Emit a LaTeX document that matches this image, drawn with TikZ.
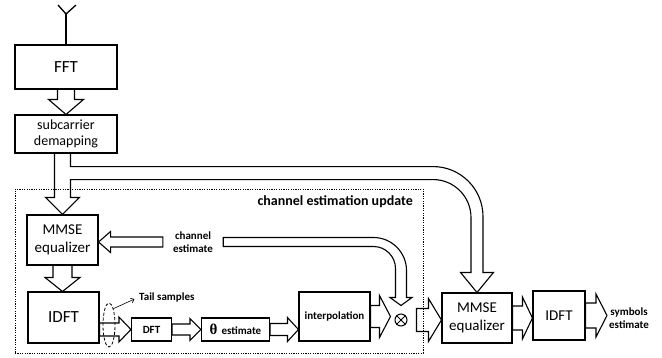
\documentclass[tikz,border=0pt]{standalone}
\usepackage{fontspec}
\setmainfont{Carlito}
\newfontfamily\thetafont{Liberation Serif}
\usetikzlibrary{calc,shapes.geometric,arrows.meta}
\tikzset{
  box/.style={draw, line width=1.1pt, inner sep=0pt, align=center},
  hollow/.style={draw, line width=1.1pt, line join=miter},
  bigtxt/.style={font=\fontsize{17}{20}\selectfont},
  midtxt/.style={font=\fontsize{15}{18.5}\selectfont},
  subtxt/.style={font=\fontsize{14}{16}\selectfont},
  smallbold/.style={font=\fontsize{11}{13.5}\selectfont\bfseries},
  thinarrow/.style={line width=0.6pt, -{Straight Barb[length=3pt,width=5pt]}},
}
% right-pointing hollow arrow: start, tip (x only), shaft half width, head half width, head length
\newcommand\hollowR[5]{\draw[hollow] let \p1=(#1), \p2=(#2) in
  (\x1,\y1+#3pt) -- (\x2-#5pt,\y1+#3pt) -- (\x2-#5pt,\y1+#4pt) -- (\x2,\y1)
  -- (\x2-#5pt,\y1-#4pt) -- (\x2-#5pt,\y1-#3pt) -- (\x1,\y1-#3pt) -- cycle;}
\newcommand\hollowL[5]{\draw[hollow] let \p1=(#1), \p2=(#2) in
  (\x1,\y1+#3pt) -- (\x2+#5pt,\y1+#3pt) -- (\x2+#5pt,\y1+#4pt) -- (\x2,\y1)
  -- (\x2+#5pt,\y1-#4pt) -- (\x2+#5pt,\y1-#3pt) -- (\x1,\y1-#3pt) -- cycle;}
\newcommand\hollowD[5]{\draw[hollow] let \p1=(#1), \p2=(#2) in
  (\x1-#3pt,\y1) -- (\x1-#3pt,\y2+#5pt) -- (\x1-#4pt,\y2+#5pt) -- (\x1,\y2)
  -- (\x1+#4pt,\y2+#5pt) -- (\x1+#3pt,\y2+#5pt) -- (\x1+#3pt,\y1);}
\begin{document}
\begin{tikzpicture}[x=1pt,y=-1pt]
\path[fill=white,use as bounding box] (0,0) rectangle (662,357);

% dotted frame
\node[draw, line width=0.9pt, dash pattern=on 1.2pt off 1.2pt, minimum width=408pt, minimum height=164pt, inner sep=0pt] (ceu) at (219,271) {};
\node[font=\fontsize{14}{16}\selectfont\bfseries, anchor=east, inner sep=0pt] (ceutxt) at (413,202) {channel estimation update};

% blocks
\node[box, bigtxt, minimum width=102pt, minimum height=44pt] (fft) at (66,67) {FFT};
\node[box, subtxt, minimum width=102pt, minimum height=38pt] (sub) at (66,134) {subcarrier\\demapping};
\node[box, midtxt, minimum width=71pt, minimum height=50pt] (mmse1) at (62.5,240) {MMSE\\equalizer};
\node[box, bigtxt, minimum width=71pt, minimum height=51pt] (idft1) at (63.5,317.5) {IDFT};
\node[box, smallbold, minimum width=40pt, minimum height=23pt] (dft) at (151.5,329.5) {DFT};
\node[box, smallbold, minimum width=68pt, minimum height=23pt] (theta) at (235.5,329.5) {{\thetafont\fontsize{15}{15}\selectfont θ}\hspace{4pt}estimate};
\node[box, smallbold, minimum width=71pt, minimum height=49pt] (interp) at (334.5,316.5) {interpolation};
\node[box, midtxt, minimum width=70pt, minimum height=50pt] (mmse2) at (477,318) {MMSE\\equalizer};
\node[box, midtxt, minimum width=52pt, minimum height=49pt] (idft2) at (559,315.5) {IDFT};
\node[circle, draw, line width=1pt, minimum size=12pt, inner sep=0pt] (ot) at (401,320) {};
\draw[line width=1pt] (ot.45) -- (ot.225) (ot.135) -- (ot.315);

% texts
\node[smallbold, align=center, inner sep=0pt, minimum width=60pt] (chest) at (193,242) {channel\\estimate};
\node[smallbold, align=center, anchor=west, inner xsep=2pt, inner ysep=0pt] (sym) at (607,318) {symbols\\estimate};
\node[smallbold, anchor=west, inner sep=0pt] (tailtxt) at (139,297) {Tail samples};
\node[ellipse, draw, line width=0.8pt, dash pattern=on 3pt off 2pt, minimum width=12pt, minimum height=44pt, inner sep=0pt] (tail) at (109,325) {};
\draw[thinarrow, shorten >=5pt] (tail.75) -- (tailtxt.west);

% antenna
\coordinate (ant) at (66,14);
\draw[line width=2pt] (fft.north) -- (ant);
\draw[line width=1.3pt] (ant) -- +(-8,-9) (ant) -- +(10,-9);

% hollow arrows
\hollowD{fft.south}{sub.north}{8.5}{17.5}{15}
\hollowD{mmse1.south}{idft1.north}{9.5}{17.5}{14}
\hollowR{idft1.east |- dft.west}{dft.west}{6.5}{12.5}{12}
\hollowR{dft.east}{theta.west}{5.5}{11}{11}
\hollowR{theta.east}{interp.west}{6}{12}{11}
\hollowR{interp.east}{$(ot.west)+(-4,0)$}{11}{21}{11}
\hollowR{$(ot.east)+(9,0)$}{mmse2.west}{11.5}{21.5}{13}
\hollowR{mmse2.east}{idft2.west}{12}{21}{10}
\hollowR{idft2.east}{sym.west}{12.5}{21.5}{11}
\hollowL{chest.west}{mmse1.east}{5}{10.5}{12}

% channel estimate pipe into the multiplier
\draw[hollow] let \p1=(chest.east), \p2=(ot.north) in
  (\x1,\y1-4.5pt) -- (\x1,\y1+4.5pt) -- (\x2+5.5pt-33pt,\y1+4.5pt)
  .. controls +(18.2pt,0) and +(0,18.2pt) .. (\x2+5.5pt,\y1+4.5pt-33pt)
  -- (\x2+5.5pt,\y2+16pt) -- (\x2+11pt,\y2+16pt) -- (\x2,\y2+8pt) -- (\x2-11pt,\y2+16pt)
  -- (\x2-5.5pt,\y2+16pt) -- (\x2-5.5pt,\y1-4.5pt-22pt)
  .. controls +(0,12.1pt) and +(12.1pt,0) .. (\x2-5.5pt-22pt,\y1-4.5pt) -- cycle;

% split pipe from subcarrier demapping
\draw[hollow] let \p1=(sub.south), \p2=(mmse1.north), \p3=(mmse2.north) in
  (\x2-8pt,\y1) -- (\x2-8pt,\y2+17pt) -- (\x2-17pt,\y2+17pt) -- (\x2,\y2)
  -- (\x2+17pt,\y2+17pt) -- (\x2+8pt,\y2+17pt) -- (\x2+8pt,\y1-26pt)
  -- (\x3-44pt,\y1-26pt) .. controls +(21pt,0) and +(0,21pt) .. (\x3-6pt,\y1-64pt)
  -- (\x3-6pt,\y3+20pt) -- (\x3-16.5pt,\y3+20pt) -- (\x3,\y3) -- (\x3+16.5pt,\y3+20pt)
  -- (\x3+6pt,\y3+20pt) -- (\x3+6pt,\y1-63pt)
  .. controls +(0,27.6pt) and +(27.6pt,0) .. (\x3-44pt,\y1-13pt)
  -- (\x2+8pt,\y1-13pt) -- (\x2+8pt,\y1);
\end{tikzpicture}
\end{document}
